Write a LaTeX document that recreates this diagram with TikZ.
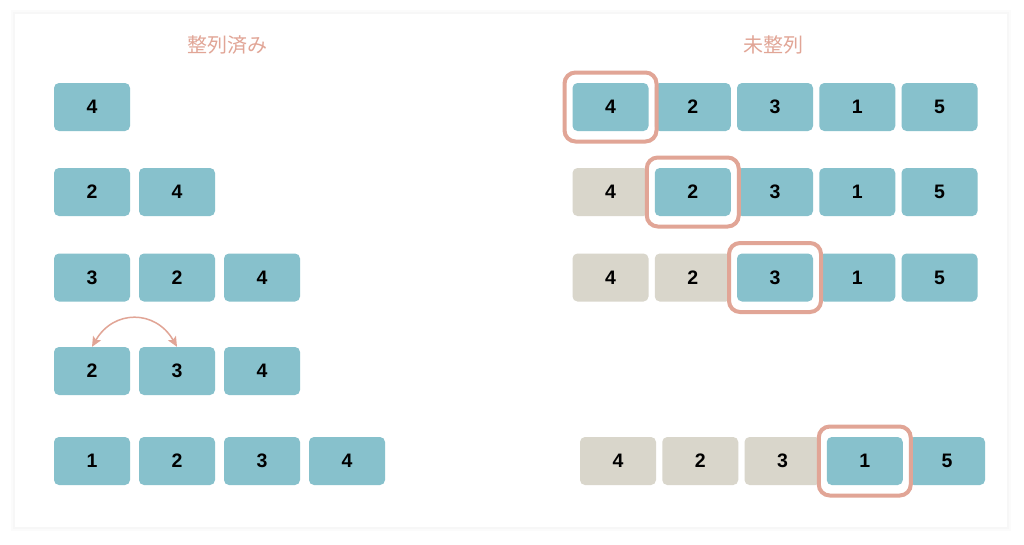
\documentclass[tikz,border=0pt]{standalone}
\usepackage{fontspec}
\setmainfont{Liberation Sans}
\newfontfamily\cjk{Noto Sans CJK JP}
\usetikzlibrary{arrows.meta}

\definecolor{cellblue}{HTML}{87C1CC}
\definecolor{cellgrey}{HTML}{D9D6CB}
\definecolor{salmon}{HTML}{E1A596}

\def\leftsep{85}
\def\rightsep{82.25}

\begin{document}
\begin{tikzpicture}[x=1pt,y=-1pt,>={Stealth[length=10pt,width=9pt,inset=2pt]}]
    \tikzstyle{cell}=[rectangle,rounded corners=5pt,fill=cellblue,minimum width=76pt,minimum height=48pt,inner sep=0pt,font=\fontsize{19.5}{19.5}\selectfont\bfseries]
    \tikzstyle{done}=[cell, fill=cellgrey]
    \tikzstyle{ring}=[rectangle,rounded corners=11pt,draw=salmon,line width=4pt,minimum width=92pt,minimum height=69pt,inner sep=0pt]
    \tikzstyle{title}=[text=salmon,font=\cjk\fontsize{20}{20}\selectfont]

    \useasboundingbox (0,0) rectangle (1024,544);

    % card with a faint shadow
    \fill[black!1.5] (11,10) rectangle (1011,531);
    \fill[black!3] (13,12) rectangle (1009,529);
    \fill[white] (15,14) rectangle (1007,527);

    % titles
    \node[title] (sorted) at (227,45) {整列済み};
    \node[title] (unsorted) at (773,45) {未整列};

    % Draw the sorted part, one row per step
    \foreach \v [count=\i] in {4}
        \node[cell] (L1-\i) at ({92+(\i-1)*\leftsep},107) {\v};
    \foreach \v [count=\i] in {2,4}
        \node[cell] (L2-\i) at ({92+(\i-1)*\leftsep},192) {\v};
    \foreach \v [count=\i] in {3,2,4}
        \node[cell] (L3-\i) at ({92+(\i-1)*\leftsep},277.5) {\v};
    \foreach \v [count=\i] in {2,3,4}
        \node[cell] (L4-\i) at ({92+(\i-1)*\leftsep},371) {\v};
    \foreach \v [count=\i] in {1,2,3,4}
        \node[cell] (L5-\i) at ({92+(\i-1)*\leftsep},461) {\v};

    % swap of 3 and 2
    \draw[<->,salmon,line width=1.5pt] (L4-1.north) to[out=60,in=120,looseness=1.3] (L4-2.north);

    % Draw the unsorted part, grey cells are already taken
    \foreach \v/\s [count=\i] in {4/cell,2/cell,3/cell,1/cell,5/cell}
        \node[\s] (R1-\i) at ({610.5+(\i-1)*\rightsep},107) {\v};
    \foreach \v/\s [count=\i] in {4/done,2/cell,3/cell,1/cell,5/cell}
        \node[\s] (R2-\i) at ({610.5+(\i-1)*\rightsep},192) {\v};
    \foreach \v/\s [count=\i] in {4/done,2/done,3/cell,1/cell,5/cell}
        \node[\s] (R3-\i) at ({610.5+(\i-1)*\rightsep},277.5) {\v};
    \foreach \v/\s [count=\i] in {4/done,2/done,3/done,1/cell,5/cell}
        \node[\s] (R5-\i) at ({618+(\i-1)*\rightsep},461) {\v};

    % mark the current cell
    \node[ring] (K-1) at (R1-1) {};
    \node[ring] (K-2) at (R2-2) {};
    \node[ring] (K-3) at (R3-3) {};
    \node[ring] (K-5) at (R5-4) {};

\end{tikzpicture}
\end{document}
